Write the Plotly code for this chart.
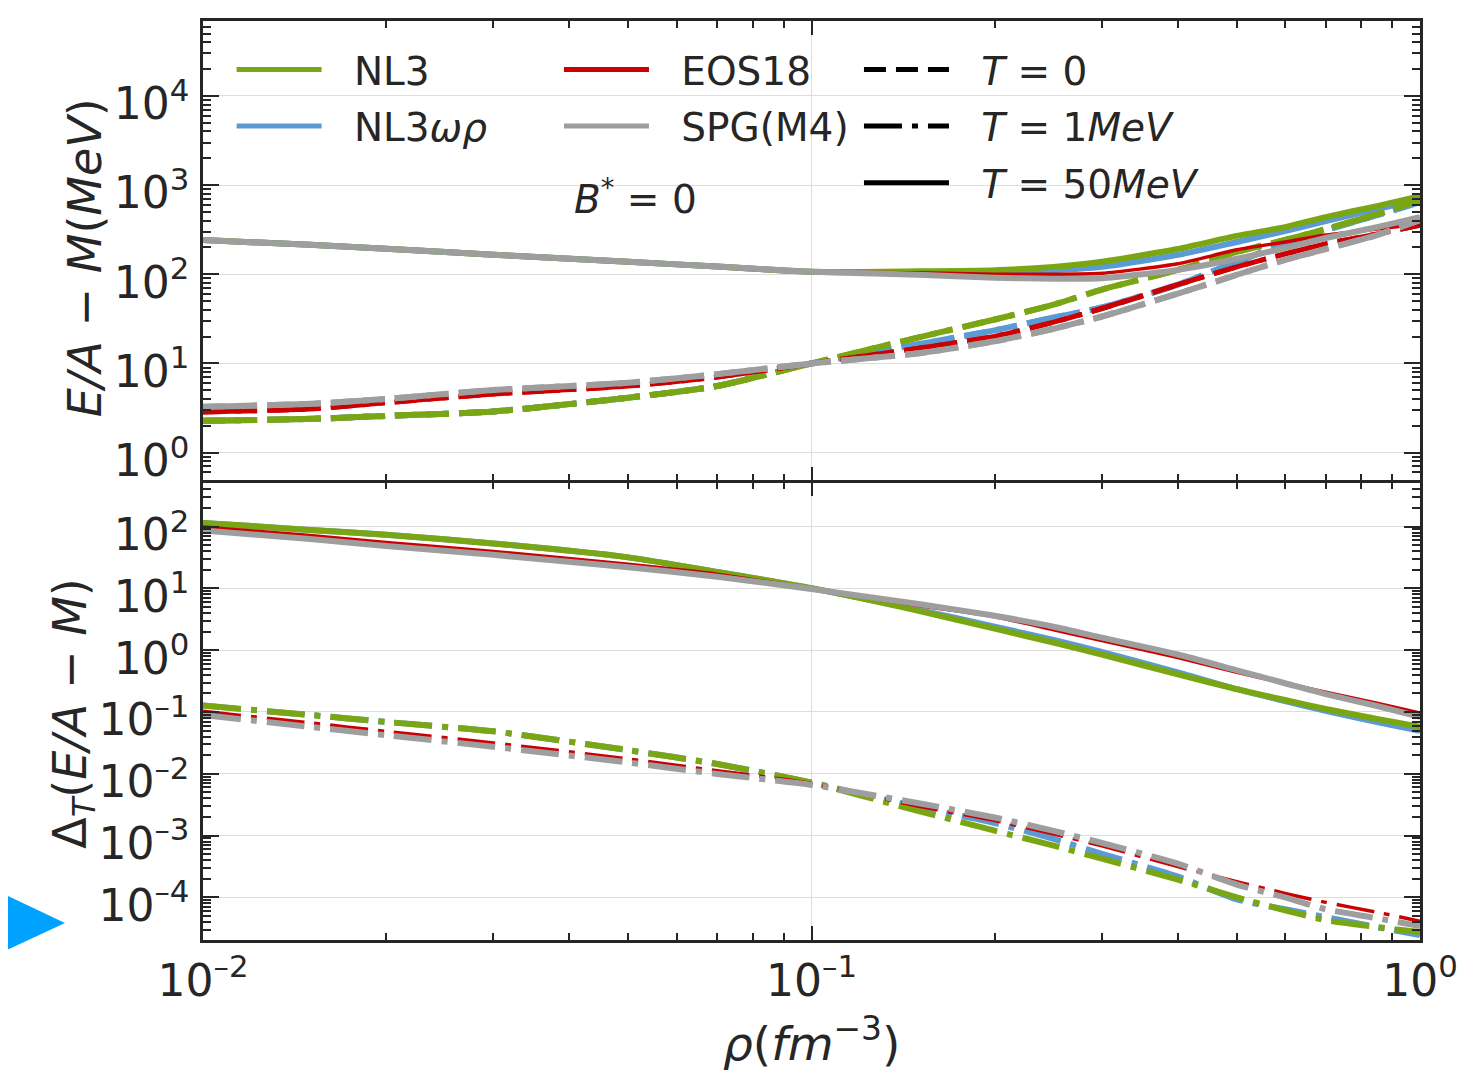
import plotly.graph_objects as go
from plotly.subplots import make_subplots

# ---------------- data ----------------
RHO = [0.01, 0.015, 0.02, 0.03, 0.05, 0.07, 0.1, 0.15, 0.2, 0.25, 0.3,
       0.4, 0.5, 0.6, 0.7, 0.85, 1.0]

# Top panel: E/A - M (MeV)
EA_T50_NL3 = [242, 214, 193, 166, 138, 122, 106.6, 108, 111, 121, 138, 192, 269, 338, 438, 581, 750]
EA_T50_NL3WR = [242, 214, 193, 166, 138, 122, 106.6, 105.3, 106.6, 110.9, 121, 165, 230, 305, 394, 537, 693]
EA_T50_EOS18 = [242, 214, 193, 166, 138, 122, 106.6, 104, 100, 100, 102.6, 131, 188, 230, 275, 321, 365]
EA_T50_SPG = [242, 214, 193, 166, 138, 122, 106.6, 98.7, 91.4, 89.1, 90.2, 112, 149, 197, 255, 338, 437]

EA_T0_NL3 = [2.27, 2.39, 2.58, 2.89, 4.13, 5.58, 10.0, 19.6, 31.1, 45.7, 67.2, 112, 178, 242, 321, 472, 676]
EA_T0_NL3WR = [2.27, 2.39, 2.58, 2.89, 4.13, 5.58, 10.0, 16.4, 23.5, 32.7, 42.4, 76.4, 138, 219, 313, 460, 643]
EA_T0_EOS18 = [2.86, 3.09, 3.63, 4.54, 5.58, 7.03, 10.0, 14.8, 20.1, 29.0, 41.3, 76.4, 121, 169, 219, 283, 356]
EA_T0_SPG = [3.26, 3.52, 4.0, 5.03, 6.07, 7.59, 10.0, 13.0, 17.7, 24.5, 33.6, 60.6, 98.7, 145, 192, 275, 405]

# T = 1 MeV curves lie on top of the T = 0 curves in the upper panel
EA_T1_NL3 = [2.27, 2.39, 2.58, 2.89, 4.13, 5.58, 10.0, 19.6, 31.1, 45.7, 67.2, 112, 178, 242, 321, 472, 676]
EA_T1_NL3WR = [2.27, 2.39, 2.58, 2.89, 4.13, 5.58, 10.0, 16.4, 23.5, 32.7, 42.4, 76.4, 138, 219, 313, 460, 643]
EA_T1_EOS18 = [2.86, 3.09, 3.63, 4.54, 5.58, 7.03, 10.0, 14.8, 20.1, 29.0, 41.3, 76.4, 121, 169, 219, 283, 356]
EA_T1_SPG = [3.26, 3.52, 4.0, 5.03, 6.07, 7.59, 10.0, 13.0, 17.7, 24.5, 33.6, 60.6, 98.7, 145, 192, 275, 405]

# Bottom panel: Delta_T(E/A - M)
D_T50_NL3 = [114.7, 88.5, 73.6, 53.4, 31.8, 18.5, 10.1, 4.33, 2.23, 1.33, 0.851, 0.406, 0.234, 0.156, 0.112, 0.0772, 0.0574]
D_T50_NL3WR = [114.7, 88.5, 73.6, 53.4, 31.8, 18.5, 10.1, 4.49, 2.40, 1.46, 0.935, 0.438, 0.234, 0.150, 0.104, 0.069, 0.0495]
D_T50_EOS18 = [98.2, 71.8, 55.4, 39.7, 24.5, 17.0, 9.93, 5.28, 3.48, 2.14, 1.43, 0.762, 0.438, 0.292, 0.209, 0.139, 0.0964]
D_T50_SPG = [86.3, 63.0, 48.6, 34.9, 22.0, 15.5, 9.75, 5.61, 3.60, 2.40, 1.60, 0.851, 0.472, 0.292, 0.195, 0.125, 0.0832]

D_T1_NL3 = [0.127, 0.0895, 0.069, 0.0486, 0.0241, 0.0144, 0.0072, 0.00249, 0.0012, 0.000687, 0.000422,
            0.000194, 0.0001, 6.18e-5, 4.27e-5, 3.3e-5, 2.74e-5]
D_T1_NL3WR = [0.127, 0.0895, 0.069, 0.0486, 0.0241, 0.0144, 0.0072, 0.00288, 0.0016, 0.000883, 0.000508,
              0.000217, 9.29e-5, 6.41e-5, 4.77e-5, 3.3e-5, 2.45e-5]
D_T1_EOS18 = [0.1026, 0.0666, 0.0486, 0.0315, 0.0174, 0.0112, 0.0070, 0.00299, 0.00175, 0.00106, 0.000682,
              0.000314, 0.00018, 0.000116, 8.3e-5, 5.74e-5, 4.12e-5]
D_T1_SPG = [0.0895, 0.0574, 0.042, 0.0274, 0.0152, 0.00993, 0.0066, 0.00334, 0.00196, 0.00119, 0.000762,
            0.000351, 0.000161, 9.98e-5, 6.41e-5, 4.6e-5, 3.42e-5]

MODEL_NAMES = ["NL3ωρ", "NL3", "EOS18", "SPG(M4)"]
LEGEND_MODEL_LABELS = ["NL3", "NL3<i>ωρ</i>", "EOS18", "SPG(M4)"]
LEGEND_T_LABELS = ["<i>T</i> = 0", "<i>T</i> = 1<i>MeV</i>", "<i>T</i> = 50<i>MeV</i>"]

X_TICKS = [0.01, 0.1, 1]
X_TICKTEXT = ["10<sup>–2</sup>", "10<sup>–1</sup>", "10<sup>0</sup>"]
Y_TOP_TICKS = [1, 10, 100, 1000, 10000]
Y_TOP_TICKTEXT = ["10<sup>0</sup>", "10<sup>1</sup>", "10<sup>2</sup>", "10<sup>3</sup>", "10<sup>4</sup>"]
Y_BOT_TICKS = [1e-4, 1e-3, 1e-2, 1e-1, 1, 10, 100]
Y_BOT_TICKTEXT = ["10<sup>–4</sup>", "10<sup>–3</sup>", "10<sup>–2</sup>", "10<sup>–1</sup>",
                  "10<sup>0</sup>", "10<sup>1</sup>", "10<sup>2</sup>"]

# ---------------- style ----------------
FONT = "DejaVu Sans"
TXT = "#262626"
GREEN = "#7AA614"
BLUE = "#5B9BD5"
RED = "#CC0000"
GRAY = "#9E9E9E"
COLORS = {"NL3ωρ": BLUE, "NL3": GREEN, "EOS18": RED, "SPG(M4)": GRAY}
DASH = "22px,10px"
DASHDOT = "38px,10px,6px,10px"
GAP = "\u2002\u2009"  # space between legend key and its label
LW = 2.5

TOP = {
    "NL3ωρ": (EA_T50_NL3WR, EA_T0_NL3WR, EA_T1_NL3WR),
    "NL3": (EA_T50_NL3, EA_T0_NL3, EA_T1_NL3),
    "EOS18": (EA_T50_EOS18, EA_T0_EOS18, EA_T1_EOS18),
    "SPG(M4)": (EA_T50_SPG, EA_T0_SPG, EA_T1_SPG),
}
BOT = {
    "NL3ωρ": (D_T50_NL3WR, D_T1_NL3WR),
    "NL3": (D_T50_NL3, D_T1_NL3),
    "EOS18": (D_T50_EOS18, D_T1_EOS18),
    "SPG(M4)": (D_T50_SPG, D_T1_SPG),
}

fig = make_subplots(rows=2, cols=1, shared_xaxes=True, vertical_spacing=0)

for name in MODEL_NAMES:
    c = COLORS[name]
    thin = name == "EOS18"
    w_solid = 3.5 if thin else 6
    w_dash = 5 if thin else 6
    t50, t0, t1 = TOP[name]
    fig.add_trace(go.Scatter(x=RHO, y=t0, mode="lines", showlegend=False,
                             line=dict(color=c, width=w_dash, dash=DASH, shape="spline", smoothing=0.6)),
                  row=1, col=1)
    fig.add_trace(go.Scatter(x=RHO, y=t1, mode="lines", showlegend=False,
                             line=dict(color=c, width=w_dash, dash=DASHDOT, shape="spline", smoothing=0.6)),
                  row=1, col=1)
    fig.add_trace(go.Scatter(x=RHO, y=t50, mode="lines", showlegend=False,
                             line=dict(color=c, width=w_solid, shape="spline", smoothing=0.6)),
                  row=1, col=1)
    b50, b1 = BOT[name]
    fig.add_trace(go.Scatter(x=RHO, y=b50, mode="lines", showlegend=False,
                             line=dict(color=c, width=w_solid, shape="spline", smoothing=0.6)),
                  row=2, col=1)
    fig.add_trace(go.Scatter(x=RHO, y=b1, mode="lines", showlegend=False,
                             line=dict(color=c, width=(3.5 if thin else 6), dash=DASHDOT,
                                       shape="spline", smoothing=0.6)),
                  row=2, col=1)

# legend-only entries
for i, (lab, c, lg) in enumerate([(LEGEND_MODEL_LABELS[0], GREEN, "legend"),
                                  (LEGEND_MODEL_LABELS[1], BLUE, "legend"),
                                  (LEGEND_MODEL_LABELS[2], RED, "legend2"),
                                  (LEGEND_MODEL_LABELS[3], GRAY, "legend2")]):
    fig.add_trace(go.Scatter(x=[None], y=[None], mode="lines", name=GAP + lab, legend=lg,
                             legendgroup=f"m{i}", line=dict(color=c, width=5)), row=1, col=1)
for i, (lab, d) in enumerate(zip(LEGEND_T_LABELS, [DASH, DASHDOT, "solid"])):
    fig.add_trace(go.Scatter(x=[None], y=[None], mode="lines", name=GAP + lab, legend="legend3",
                             legendgroup=f"t{i}", line=dict(color="black", width=5, dash=d)),
                  row=1, col=1)


def minor_vals(lo, hi):
    out = []
    for n in range(lo, hi):
        for k in range(2, 10):
            out.append(k * 10.0 ** n)
    return out


PLOT_H = 922
split = 460 / PLOT_H
half = (LW / 2) / PLOT_H  # so that the two panels share one frame line

axis_common = dict(
    type="log", showline=True, linecolor=TXT, linewidth=LW, mirror="allticks",
    ticks="inside", tickwidth=2, tickcolor=TXT, showgrid=True, gridcolor="#DDDDDD",
    gridwidth=1.3, zeroline=False, tickfont=dict(family=FONT, size=44, color=TXT),
    tickmode="array",
)

fig.update_xaxes(**axis_common, range=[-2, 0], tickvals=X_TICKS, ticktext=X_TICKTEXT, ticklen=14,
                 minor=dict(tickmode="array", tickvals=minor_vals(-2, 0), ticks="inside",
                            ticklen=7, tickwidth=1.5, tickcolor=TXT, showgrid=False))
fig.update_xaxes(showticklabels=False, row=1, col=1)
fig.update_yaxes(**axis_common, ticklen=16, ticklabelstandoff=2, ticklabelshift=8)
fig.update_yaxes(range=[-0.31, 4.84], domain=[split + half, 1], tickvals=Y_TOP_TICKS, ticktext=Y_TOP_TICKTEXT,
                 minor=dict(tickmode="array", tickvals=minor_vals(-1, 5), ticks="inside",
                            ticklen=8, tickwidth=1.5, tickcolor=TXT, showgrid=False),
                 row=1, col=1)
fig.update_yaxes(range=[-4.69, 2.71], domain=[0, split - half], tickvals=Y_BOT_TICKS, ticktext=Y_BOT_TICKTEXT,
                 minor=dict(tickmode="array", tickvals=minor_vals(-5, 3), ticks="inside",
                            ticklen=8, tickwidth=1.5, tickcolor=TXT, showgrid=False),
                 row=2, col=1)

leg_common = dict(xanchor="left", yanchor="top", bgcolor="rgba(0,0,0,0)",
                  font=dict(family=FONT, size=39, color=TXT), tracegroupgap=3, itemwidth=85)

fig.update_layout(
    width=1465, height=1064,
    margin=dict(l=195, r=53, t=10, b=132),
    paper_bgcolor="white", plot_bgcolor="white",
    font=dict(family=FONT, color=TXT),
    legend=dict(**leg_common, x=0.0235, y=0.982),
    legend2=dict(**leg_common, x=0.2925, y=0.982),
    legend3=dict(**leg_common, x=0.539, y=0.982),
    annotations=[
        dict(text="<i>E/A</i> − <i>M</i>(<i>MeV</i>)", xref="paper", yref="paper",
             x=-0.097, y=0.743, xanchor="center", yanchor="middle", textangle=-90, showarrow=False,
             font=dict(family=FONT, size=46, color=TXT)),
        dict(text="Δ<sub><i>T</i></sub>(<i>E/A</i> − <i>M</i>)", xref="paper", yref="paper",
             x=-0.107, y=0.247, xanchor="center", yanchor="middle", textangle=-90, showarrow=False,
             font=dict(family=FONT, size=46, color=TXT)),
        dict(text="<i>ρ</i>(<i>fm</i><sup>−3</sup>)", xref="paper", yref="paper",
             x=0.5004, y=-0.109, xanchor="center", yanchor="middle", showarrow=False,
             font=dict(family=FONT, size=47, color=TXT)),
        dict(text="<i>B</i><sup>*</sup> = 0", xref="paper", yref="paper",
             x=0.355, y=0.808, xanchor="center", yanchor="middle", showarrow=False,
             font=dict(family=FONT, size=39, color=TXT)),
    ],
    shapes=[
        dict(type="path", xref="paper", yref="paper",
             path="M -0.17,0.054 L -0.1134,0.0184 L -0.17,-0.0163 Z",
             fillcolor="#00A2FF", line=dict(width=0)),
    ],
)

fig.write_html("out.html")
